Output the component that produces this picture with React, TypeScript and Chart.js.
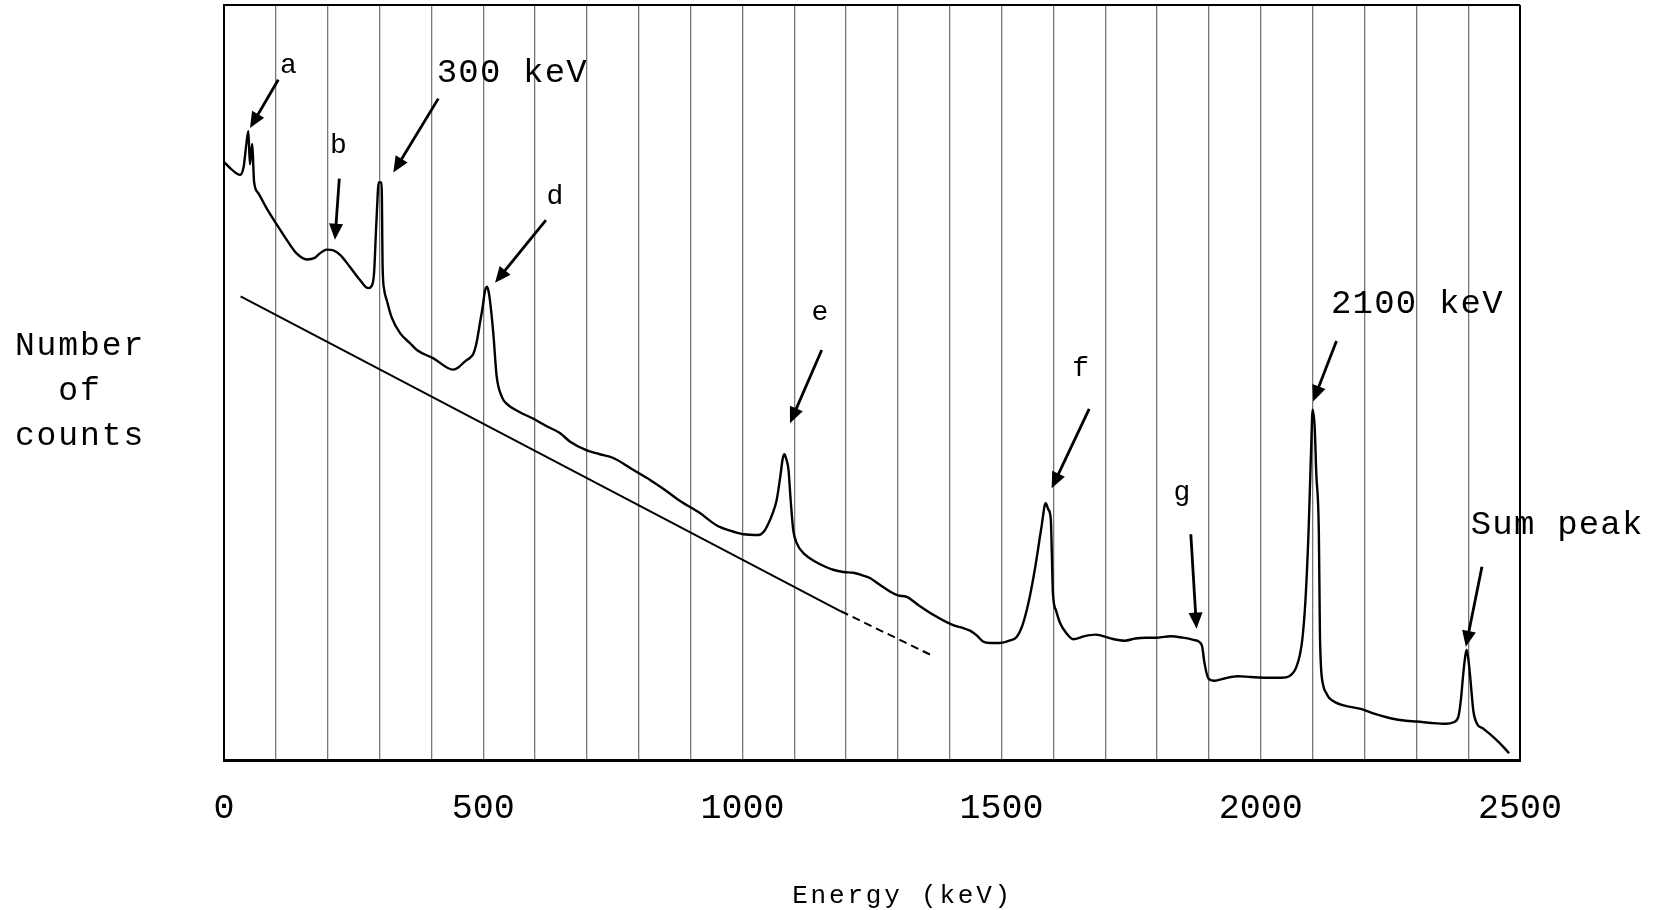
import React, { useEffect, useRef } from 'react';
import { Chart, registerables } from 'chart.js';

Chart.register(...registerables);

// Spectrum (energy in keV, counts in arbitrary units 0-100)
const energies = [
  0, 15, 31, 38, 43, 47, 50, 52.5, 54.6, 56.6,
  58, 66, 82, 102, 121, 140, 160, 175, 185, 198,
  211, 224, 243, 262, 278, 285, 289.5, 293, 296, 298,
  304, 306, 309, 314, 323, 340, 359, 372, 404, 442,
  452, 465, 475, 481, 487, 494, 499, 503, 507, 510,
  513, 519.5, 526, 536, 545, 570, 597, 620, 648, 667,
  700, 725, 751, 790, 822, 850, 880, 918, 950, 975,
  1002, 1031, 1042, 1050, 1058, 1066, 1073, 1078, 1081, 1084,
  1089, 1093, 1098, 1105, 1121, 1140, 1160, 1175, 1195, 1214,
  1230, 1246, 1265, 1285, 1300, 1317, 1340, 1369, 1390, 1409,
  1425, 1440, 1452, 1464, 1478, 1497, 1515, 1529, 1540, 1553,
  1565, 1577, 1585, 1590, 1595, 1597, 1599, 1605, 1613, 1625,
  1638, 1660, 1682, 1710, 1738, 1758, 1778, 1800, 1826, 1850,
  1870, 1882, 1887, 1891, 1899, 1911, 1930, 1955, 1980, 2011,
  2040, 2055, 2064, 2069, 2075, 2080, 2086, 2092, 2097, 2100,
  2104, 2107, 2112, 2114, 2116, 2120, 2126, 2132, 2145, 2156,
  2175, 2196, 2220, 2252, 2280, 2301, 2330, 2357, 2372, 2381,
  2386, 2390, 2393, 2397, 2401, 2405, 2410, 2417, 2428, 2441,
  2460, 2479,
];
const counts = [
  79.2, 78.2, 77.5, 78.6, 81.5, 83.3, 78.9, 80.5, 81.6, 78.6,
  76.6, 75.1, 73.1, 70.9, 68.9, 67.1, 66.3, 66.5, 67.1, 67.6,
  67.5, 66.9, 65.3, 63.6, 62.5, 62.8, 64.5, 69.8, 74.2, 76.5,
  76.5, 65.3, 62.3, 60.9, 58.7, 56.5, 55.2, 54.3, 53.2, 51.7,
  52.0, 52.8, 53.3, 53.8, 55.2, 58.0, 60.0, 62.0, 62.7, 62.2,
  60.9, 56.5, 50.8, 48.1, 47.2, 46.1, 45.2, 44.3, 43.3, 42.2,
  41.0, 40.5, 40.0, 38.4, 37.1, 35.8, 34.3, 32.7, 31.1, 30.4,
  29.9, 29.8, 30.3, 31.3, 32.6, 34.4, 37.5, 40.0, 40.5, 40.0,
  38.4, 34.5, 30.5, 28.7, 27.2, 26.3, 25.6, 25.2, 24.9, 24.8,
  24.5, 24.1, 23.2, 22.3, 21.8, 21.6, 20.5, 19.2, 18.4, 17.8,
  17.5, 17.1, 16.5, 15.7, 15.5, 15.5, 15.8, 16.3, 17.8, 21.2,
  25.6, 30.9, 34.0, 33.2, 31.8, 27.0, 22.1, 19.8, 18.1, 16.8,
  16.0, 16.4, 16.6, 16.1, 15.8, 16.1, 16.2, 16.2, 16.4, 16.2,
  15.9, 15.6, 15.0, 13.0, 10.8, 10.5, 10.8, 11.1, 11.0, 10.9,
  10.9, 11.1, 11.7, 12.4, 13.8, 15.9, 21.0, 30.0, 41.0, 46.4,
  44.0, 38.0, 30.0, 17.0, 12.5, 10.0, 8.9, 8.2, 7.6, 7.3,
  7.0, 6.7, 6.1, 5.5, 5.2, 5.1, 4.9, 4.8, 5.0, 5.7,
  8.0, 11.0, 13.0, 14.6, 13.0, 10.2, 6.5, 4.8, 4.2, 3.5,
  2.3, 0.9,
];

// Straight background line (solid) and its dashed extrapolation
const baselineEnergies = [32, 1190];
const baselineCounts = [61.4, 19.7];
const dashedEnergies = [1190, 1367];
const dashedCounts = [19.7, 13.8];

// X axis
const xMin = 0;
const xMax = 2500;
const gridStep = 100;
const labelStep = 500;

// Annotations: label text, label anchor (energy, count at baseline), arrow tail/tip
const annotationTexts = ['a', 'b', '300 keV', 'd', 'e', 'f', 'g', '2100 keV', 'Sum peak'];
const annotationTextEnergy = [124, 220.5, 410.3, 638.5, 1149.7, 1652.6, 1848, 2135.4, 2405];
const annotationTextCount = [91.0, 80.4, 89.8, 73.7, 58.3, 50.8, 34.4, 59.2, 30.0];
const annotationAlign = ['center', 'center', 'left', 'center', 'center', 'center', 'center', 'left', 'left'];
const annotationIsLetter = [true, true, false, true, true, true, true, false, false];
const arrowTailEnergy = [104.7, 222.4, 413.4, 621, 1153, 1669, 1865, 2146, 2426.6];
const arrowTailCount = [90.1, 77.0, 87.6, 71.5, 54.3, 46.5, 29.9, 55.5, 25.6];
const arrowTipEnergy = [50.2, 214, 326.6, 522.8, 1091.8, 1596.6, 1876, 2101, 2395.5];
const arrowTipCount = [83.7, 68.9, 77.8, 63.2, 44.6, 36.0, 17.4, 47.5, 15.0];

const yTitleLines = ['Number', 'of', 'counts'];
const xTitle = 'Energy (keV)';
const xTitleCenterEnergy = 1309;

const FONT = '"Liberation Mono", "DejaVu Sans Mono", monospace';

function drawArrow(ctx: CanvasRenderingContext2D, x1: number, y1: number, x2: number, y2: number) {
  const ang = Math.atan2(y2 - y1, x2 - x1);
  const headLen = 16;
  const headW = 7;
  const bx = x2 - headLen * Math.cos(ang);
  const by = y2 - headLen * Math.sin(ang);
  ctx.beginPath();
  ctx.moveTo(x1, y1);
  ctx.lineTo(bx + 2 * Math.cos(ang), by + 2 * Math.sin(ang));
  ctx.lineWidth = 2.8;
  ctx.strokeStyle = '#000';
  ctx.stroke();
  ctx.beginPath();
  ctx.moveTo(x2, y2);
  ctx.lineTo(bx + headW * Math.sin(ang), by - headW * Math.cos(ang));
  ctx.lineTo(bx - headW * Math.sin(ang), by + headW * Math.cos(ang));
  ctx.closePath();
  ctx.fillStyle = '#000';
  ctx.fill();
}

const decorPlugin = {
  id: 'decor',
  beforeDraw(chart: any) {
    (chart.ctx as any).letterSpacing = '0px';
  },
  afterDraw(chart: any) {
    const { ctx, chartArea, scales } = chart;
    const xs = scales.x;
    const ys = scales.y;
    ctx.save();
    // top & right frame lines
    ctx.strokeStyle = '#000';
    ctx.lineWidth = 2;
    ctx.beginPath();
    ctx.moveTo(chartArea.left, chartArea.top);
    ctx.lineTo(chartArea.right, chartArea.top);
    ctx.stroke();
    ctx.beginPath();
    ctx.moveTo(chartArea.right, chartArea.top);
    ctx.lineTo(chartArea.right, chartArea.bottom + 2);
    ctx.stroke();

    // arrows
    for (let i = 0; i < annotationTexts.length; i++) {
      drawArrow(
        ctx,
        xs.getPixelForValue(arrowTailEnergy[i]),
        ys.getPixelForValue(arrowTailCount[i]),
        xs.getPixelForValue(arrowTipEnergy[i]),
        ys.getPixelForValue(arrowTipCount[i])
      );
    }
    // labels
    ctx.fillStyle = '#000';
    ctx.textBaseline = 'alphabetic';
    for (let i = 0; i < annotationTexts.length; i++) {
      if (annotationIsLetter[i]) {
        ctx.font = `28px ${FONT}`;
        (ctx as any).letterSpacing = '0px';
      } else {
        ctx.font = `34px ${FONT}`;
        (ctx as any).letterSpacing = '1.2px';
      }
      ctx.textAlign = annotationAlign[i] as CanvasTextAlign;
      ctx.fillText(
        annotationTexts[i],
        xs.getPixelForValue(annotationTextEnergy[i]),
        ys.getPixelForValue(annotationTextCount[i])
      );
    }

    // y title (horizontal, three lines)
    ctx.font = `33px ${FONT}`;
    (ctx as any).letterSpacing = '1.9px';
    ctx.textAlign = 'center';
    const yTitleX = chartArea.left - 144;
    yTitleLines.forEach((line, i) => {
      ctx.fillText(line, yTitleX, chartArea.top + 350 + i * 45);
    });

    // x title
    ctx.font = `26px ${FONT}`;
    (ctx as any).letterSpacing = '2.8px';
    ctx.textAlign = 'center';
    ctx.fillText(xTitle, xs.getPixelForValue(xTitleCenterEnergy), chartArea.bottom + 143);
    ctx.restore();
  },
};

export default function App() {
  const canvasRef = useRef<HTMLCanvasElement | null>(null);

  useEffect(() => {
    const canvas = canvasRef.current;
    if (!canvas) return;
    const chart = new Chart(canvas, {
      type: 'line',
      data: {
        datasets: [
          {
            data: energies.map((e, i) => ({ x: e, y: counts[i] })),
            borderColor: '#000',
            borderWidth: 2.4,
            pointRadius: 0,
            cubicInterpolationMode: 'monotone',
            fill: false,
          },
          {
            data: baselineEnergies.map((e, i) => ({ x: e, y: baselineCounts[i] })),
            borderColor: '#000',
            borderWidth: 2,
            pointRadius: 0,
            tension: 0,
            fill: false,
          },
          {
            data: dashedEnergies.map((e, i) => ({ x: e, y: dashedCounts[i] })),
            borderColor: '#000',
            borderWidth: 2,
            borderDash: [8, 5],
            pointRadius: 0,
            tension: 0,
            fill: false,
          },
        ],
      },
      options: {
        responsive: false,
        animation: false,
        devicePixelRatio: 1,
        layout: { padding: { left: 0, top: 5, right: 134, bottom: 0 } },
        plugins: {
          legend: { display: false },
          tooltip: { enabled: false },
        },
        scales: {
          x: {
            type: 'linear',
            min: xMin,
            max: xMax,
            afterFit: (s: any) => {
              s.height = 150;
            },
            ticks: {
              stepSize: gridStep,
              autoSkip: false,
              maxRotation: 0,
              minRotation: 0,
              padding: 28,
              color: '#000',
              font: { family: FONT, size: 35 },
              callback: (v: any) => (Number(v) % labelStep === 0 ? String(v) : ''),
            },
            grid: { color: '#777', lineWidth: 1.3, drawTicks: false },
            border: { color: '#000', width: 3 },
          },
          y: {
            min: 0,
            max: 100,
            afterFit: (s: any) => {
              s.width = 224;
            },
            ticks: { display: false },
            grid: { display: false, drawTicks: false },
            border: { color: '#000', width: 2 },
          },
        },
      },
      plugins: [decorPlugin],
    } as any);
    return () => {
      chart.destroy();
    };
  }, []);

  return (
    <div style={{ position: 'absolute', left: 0, top: 0, width: 1654, height: 910, background: '#fff' }}>
      <canvas ref={canvasRef} width={1654} height={910} />
    </div>
  );
}
